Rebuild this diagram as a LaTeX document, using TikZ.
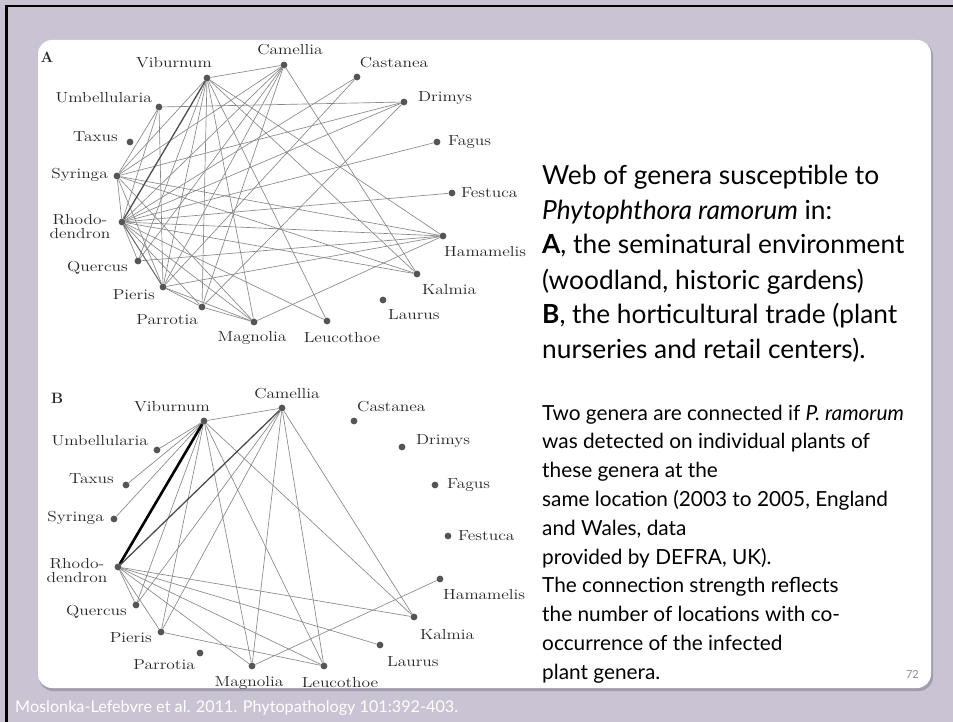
\documentclass[tikz,border=0pt]{standalone}
\usepackage{fontspec}
\usepackage{graphicx}
\newfontfamily\gill{Lato}
\definecolor{bgc}{HTML}{C9C3D4}
\definecolor{shc}{HTML}{A29DAE}
\definecolor{edgec}{HTML}{888888}
\definecolor{dotc}{HTML}{555555}
\newcommand{\sx}[1]{\scalebox{1.2}[1]{#1}}
\pgfdeclarelayer{back}
\pgfdeclarelayer{edges}
\pgfsetlayers{back,edges,main}
\tikzset{
  dot/.style={circle, fill=dotc, inner sep=0pt, minimum size=6.8pt},
  lab/.style={inner sep=0pt, text=black!85, font=\fontsize{14.5}{15}\selectfont},
  ln/.style={draw=edgec, line width=0.65pt},
  dk/.style={draw=black!70, line width=1.3pt},
  dk2/.style={draw=black!60, line width=1pt},
  blk/.style={draw=black, line width=2.6pt},
  big/.style={anchor=base west, inner sep=0pt, font=\gill\fontsize{26.3}{30}\selectfont},
  sml/.style={anchor=base west, inner sep=0pt, font=\gill\fontsize{20.8}{24}\selectfont},
}
\begin{document}
\begin{tikzpicture}[x=1pt,y=-1pt]
\useasboundingbox (0,0) rectangle (953,722);
\begin{pgfonlayer}{back}
\fill[bgc] (0,0) rectangle (953,722);
\fill[black] (5,5) rectangle (953,7.5);
\fill[black] (5,5) rectangle (7.5,722);
\fill[shc, rounded corners=14pt] (39,42) rectangle (933,691);
\fill[white, rounded corners=14pt] (38,40) rectangle (931,688);
\end{pgfonlayer}

% ---------- Diagram A ----------
\node[lab, font=\bfseries\fontsize{15}{16}\selectfont] (aA) at (47,57) {A};
\node[dot] (aVi) at (207,78) {};
\node[dot] (aCa) at (284,65) {};
\node[dot] (aCs) at (357,77) {};
\node[dot] (aUm) at (159,107) {};
\node[dot] (aDr) at (404,102) {};
\node[dot] (aTa) at (130,142) {};
\node[dot] (aFa) at (437,142) {};
\node[dot] (aSy) at (117,176) {};
\node[dot] (aFe) at (452,193) {};
\node[dot] (aRh) at (122,222) {};
\node[dot] (aHa) at (443,236) {};
\node[dot] (aQu) at (138,261) {};
\node[dot] (aKa) at (417,274) {};
\node[dot] (aPi) at (163,287) {};
\node[dot] (aLa) at (383,300) {};
\node[dot] (aPa) at (202,307) {};
\node[dot] (aMa) at (254,322) {};
\node[dot] (aLe) at (327,321) {};

\node[lab] (laVi) at (174,63) {\sx{Viburnum}};
\node[lab] (laCa) at (290,50) {\sx{Camellia}};
\node[lab] (laCs) at (394,63) {\sx{Castanea}};
\node[lab, anchor=east] (laUm) at (152,98) {\sx{Umbellularia}};
\node[lab, anchor=west] (laDr) at (418,98) {\sx{Drimys}};
\node[lab, anchor=east] (laTa) at (118,137) {\sx{Taxus}};
\node[lab, anchor=west] (laFa) at (448,142) {\sx{Fagus}};
\node[lab, anchor=east] (laSy) at (108,175) {\sx{Syringa}};
\node[lab, anchor=west] (laFe) at (461,193) {\sx{Festuca}};
\node[lab, align=center] (laRh) at (80,227) {\sx{Rhodo-}\\[-1pt]\sx{dendron}};
\node[lab, anchor=west] (laHa) at (444,252) {\sx{Hamamelis}};
\node[lab, anchor=east] (laQu) at (128,268) {\sx{Quercus}};
\node[lab, anchor=west] (laKa) at (422,290) {\sx{Kalmia}};
\node[lab, anchor=east] (laPi) at (155,295) {\sx{Pieris}};
\node[lab, anchor=west] (laLa) at (388,315) {\sx{Laurus}};
\node[lab, anchor=east] (laPa) at (198,320) {\sx{Parrotia}};
\node[lab] (laMa) at (252,338) {\sx{Magnolia}};
\node[lab] (laLe) at (342,338) {\sx{Leucothoe}};

\begin{pgfonlayer}{edges}
\foreach \s/\t in {aVi/aCa, aVi/aSy, aVi/aQu, aVi/aPi, aVi/aPa, aVi/aMa, aVi/aLe, aVi/aKa, aVi/aHa,
  aCa/aRh, aCa/aSy, aCa/aQu, aCa/aPi, aCa/aKa, aCa/aPa,
  aCs/aRh, aCs/aPi,
  aUm/aDr, aUm/aRh, aUm/aPi, aUm/aSy,
  aDr/aSy, aDr/aRh, aDr/aPa,
  aFa/aRh, aFe/aRh,
  aHa/aSy, aHa/aRh, aHa/aPi, aHa/aMa, aHa/aQu,
  aKa/aRh, aKa/aSy,
  aRh/aSy, aRh/aQu, aRh/aPa, aRh/aMa, aRh/aLe,
  aSy/aPi, aSy/aMa, aPi/aMa, aPa/aMa, aPi/aPa}
  \draw[ln] (\s) -- (\t);
\draw[dk] (aVi) -- (aRh);
\draw[dk2] (aRh) -- (aPi);
\end{pgfonlayer}

% ---------- Diagram B ----------
\node[lab, font=\bfseries\fontsize{15}{16}\selectfont] (bB) at (57,398) {B};
\node[dot] (bVi) at (204,421) {};
\node[dot] (bCa) at (282,408) {};
\node[dot] (bCs) at (354,421) {};
\node[dot] (bUm) at (157,450) {};
\node[dot] (bDr) at (402,447) {};
\node[dot] (bTa) at (126,485) {};
\node[dot] (bFa) at (435,485) {};
\node[dot] (bSy) at (114,519) {};
\node[dot] (bFe) at (448,536) {};
\node[dot] (bRh) at (118,567) {};
\node[dot] (bHa) at (440,579) {};
\node[dot] (bQu) at (136,605) {};
\node[dot] (bKa) at (414,617) {};
\node[dot] (bPi) at (161,632) {};
\node[dot] (bLa) at (380,645) {};
\node[dot] (bPa) at (200,653) {};
\node[dot] (bMa) at (252,666) {};
\node[dot] (bLe) at (324,666) {};

\node[lab] (lbVi) at (172,407) {\sx{Viburnum}};
\node[lab] (lbCa) at (287,394) {\sx{Camellia}};
\node[lab, anchor=west] (lbCs) at (357,407) {\sx{Castanea}};
\node[lab, anchor=east] (lbUm) at (148,441) {\sx{Umbellularia}};
\node[lab, anchor=west] (lbDr) at (416,441) {\sx{Drimys}};
\node[lab, anchor=east] (lbTa) at (114,479) {\sx{Taxus}};
\node[lab, anchor=west] (lbFa) at (447,485) {\sx{Fagus}};
\node[lab, anchor=east] (lbSy) at (104,518) {\sx{Syringa}};
\node[lab, anchor=west] (lbFe) at (458,536) {\sx{Festuca}};
\node[lab, align=center] (lbRh) at (77,571) {\sx{Rhodo-}\\[-1pt]\sx{dendron}};
\node[lab, anchor=west] (lbHa) at (443,595) {\sx{Hamamelis}};
\node[lab, anchor=east] (lbQu) at (127,612) {\sx{Quercus}};
\node[lab, anchor=west] (lbKa) at (420,635) {\sx{Kalmia}};
\node[lab, anchor=east] (lbPi) at (152,638) {\sx{Pieris}};
\node[lab, anchor=west] (lbLa) at (387,662) {\sx{Laurus}};
\node[lab, anchor=east] (lbPa) at (195,665) {\sx{Parrotia}};
\node[lab] (lbMa) at (249,683) {\sx{Magnolia}};
\node[lab] (lbLe) at (340,683) {\sx{Leucothoe}};

\begin{pgfonlayer}{edges}
\foreach \s/\t in {bVi/bCa, bVi/bUm, bVi/bTa, bVi/bSy, bVi/bQu, bVi/bPi, bVi/bMa, bVi/bLe, bVi/bKa,
  bCa/bQu, bCa/bPi, bCa/bMa, bCa/bLe, bCa/bKa,
  bRh/bQu, bRh/bPi, bRh/bMa, bRh/bLe, bRh/bLa, bRh/bKa,
  bPi/bLe, bMa/bHa}
  \draw[ln] (\s) -- (\t);
\draw[blk] (bVi) -- (bRh);
\draw[dk] (bCa) -- (bRh);
\end{pgfonlayer}

% ---------- Text ----------
\node[big] (t1) at (542,185) {Web of genera susceptible to};
\node[big] (t2) at (542,220) {\textit{Phytophthora ramorum} in:};
\node[big] (t3) at (542,254) {\textbf{A}, the seminatural environment};
\node[big] (t4) at (542,289) {(woodland, historic gardens)};
\node[big] (t5) at (542,323) {\textbf{B}, the horticultural trade (plant};
\node[big] (t6) at (542,358) {nurseries and retail centers).};

\node[sml] (s1) at (542,420) {Two genera are connected if \textit{P. ramorum}};
\node[sml] (s2) at (542,448.8) {was detected on individual plants of};
\node[sml] (s3) at (542,477.6) {these genera at the};
\node[sml] (s4) at (542,506.4) {same location (2003 to 2005, England};
\node[sml] (s5) at (542,535.2) {and Wales, data};
\node[sml] (s6) at (542,564) {provided by DEFRA, UK).};
\node[sml] (s7) at (542,592.8) {The connection strength reflects};
\node[sml] (s8) at (542,621.6) {the number of locations with co-};
\node[sml] (s9) at (542,650.4) {occurrence of the infected};
\node[sml] (s10) at (542,679.2) {plant genera.};

\node[anchor=base east, inner sep=0pt, text=black!45, font=\gill\fontsize{11}{12}\selectfont] (pg) at (919,678) {72};
\node[anchor=base west, inner sep=0pt, text=white, font=\gill\fontsize{16.2}{18}\selectfont] (foot) at (15,712) {Moslonka-Lefebvre et al. 2011. Phytopathology 101:392-403.};
\end{tikzpicture}
\end{document}
